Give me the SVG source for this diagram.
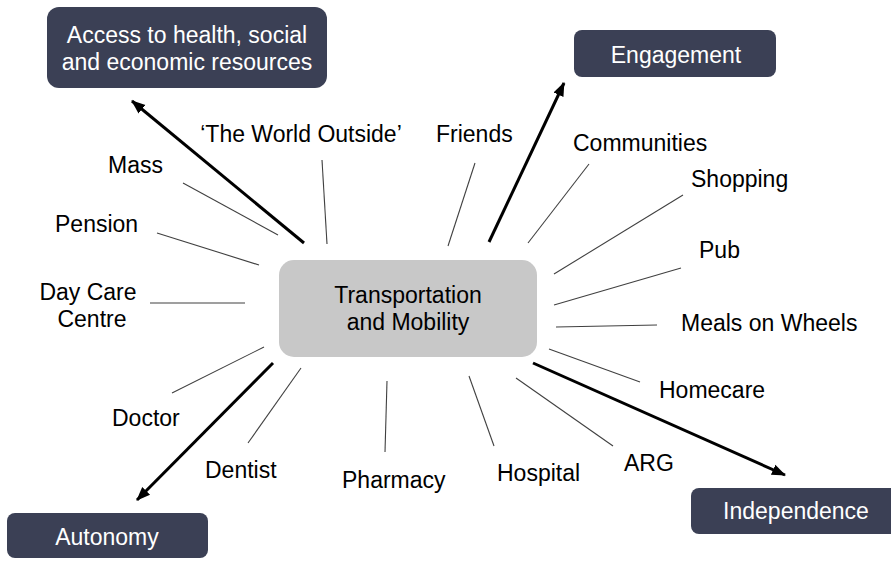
<svg xmlns="http://www.w3.org/2000/svg" width="891" height="561" viewBox="0 0 891 561">
  <style>
    .lbl { font-family: "Liberation Sans", Arial, sans-serif; font-size: 23px; fill: #000000; }
    .out { fill: #3b4055; }
    .outTxt { font-family: "Liberation Sans", Arial, sans-serif; font-size: 23px; fill: #ffffff; text-anchor: middle; }
    .hub { fill: #c8c8c8; }
    .spoke { stroke: #404040; stroke-width: 1.1; fill: none; }
    .arrow { stroke: #000000; stroke-width: 3; fill: none; marker-end: url(#head); }
  </style>
  <defs>
    <marker id="head" markerUnits="userSpaceOnUse" markerWidth="16" markerHeight="14" refX="13" refY="7" orient="auto">
      <path d="M0,1.5 L14,7 L0,12.5 Z" fill="#000000"/>
    </marker>
  </defs>
  <rect width="891" height="561" fill="#ffffff"/>

  <g id="connectors">
    <line class="spoke" x1="475" y1="163" x2="448" y2="246"/>
    <line class="spoke" x1="589" y1="164" x2="528" y2="243"/>
    <line class="spoke" x1="683" y1="195" x2="554" y2="274"/>
    <line class="spoke" x1="681" y1="268" x2="554" y2="305"/>
    <line class="spoke" x1="657" y1="325" x2="556" y2="327"/>
    <line class="spoke" x1="640" y1="382" x2="549" y2="349"/>
    <line class="spoke" x1="613" y1="446" x2="516" y2="378"/>
    <line class="spoke" x1="494" y1="446" x2="469" y2="376"/>
    <line class="spoke" x1="385" y1="452" x2="387" y2="381"/>
    <line class="spoke" x1="248" y1="443" x2="301" y2="368"/>
    <line class="spoke" x1="172" y1="393" x2="264" y2="347"/>
    <line class="spoke" x1="150" y1="303" x2="245" y2="303"/>
    <line class="spoke" x1="157" y1="233" x2="259" y2="265"/>
    <line class="spoke" x1="183" y1="183" x2="278" y2="235"/>
    <line class="spoke" x1="322" y1="160" x2="327" y2="244"/>
    <line class="arrow" x1="304" y1="243" x2="132" y2="101"/>
    <line class="arrow" x1="489" y1="242" x2="564" y2="83"/>
    <line class="arrow" x1="273" y1="363" x2="137" y2="500"/>
    <line class="arrow" x1="533" y1="363" x2="785" y2="475"/>
  </g>

  <g id="hub">
    <rect class="hub" x="279" y="260" width="258" height="97" rx="15"/>
    <text class="lbl" x="408" y="303" text-anchor="middle">Transportation</text>
    <text class="lbl" x="408" y="330" text-anchor="middle">and Mobility</text>
  </g>

  <g id="access">
    <rect class="out" x="47" y="7" width="280" height="81" rx="12"/>
    <text class="outTxt" x="187" y="43">Access to health, social</text>
    <text class="outTxt" x="187" y="70">and economic resources</text>
  </g>
  <g id="engagement">
    <rect class="out" x="574" y="30" width="202" height="47" rx="8"/>
    <text class="outTxt" x="676" y="63">Engagement</text>
  </g>
  <g id="autonomy">
    <rect class="out" x="7" y="513" width="201" height="45" rx="8"/>
    <text class="outTxt" x="107" y="545">Autonomy</text>
  </g>
  <g id="independence">
    <rect class="out" x="691" y="488" width="210" height="46" rx="8"/>
    <text class="outTxt" x="796" y="519">Independence</text>
  </g>

  <g id="world-outside"><text class="lbl" x="301" y="142" text-anchor="middle">‘The World Outside’</text></g>
  <g id="friends"><text class="lbl" x="436" y="142">Friends</text></g>
  <g id="communities"><text class="lbl" x="573" y="151">Communities</text></g>
  <g id="shopping"><text class="lbl" x="691" y="187">Shopping</text></g>
  <g id="pub"><text class="lbl" x="699" y="258">Pub</text></g>
  <g id="meals"><text class="lbl" x="681" y="331">Meals on Wheels</text></g>
  <g id="homecare"><text class="lbl" x="659" y="398">Homecare</text></g>
  <g id="arg"><text class="lbl" x="624" y="471">ARG</text></g>
  <g id="hospital"><text class="lbl" x="497" y="481">Hospital</text></g>
  <g id="pharmacy"><text class="lbl" x="342" y="488">Pharmacy</text></g>
  <g id="dentist"><text class="lbl" x="205" y="478">Dentist</text></g>
  <g id="doctor"><text class="lbl" x="112" y="426">Doctor</text></g>
  <g id="daycare">
    <text class="lbl" x="88" y="300" text-anchor="middle">Day Care</text>
    <text class="lbl" x="92" y="327" text-anchor="middle">Centre</text>
  </g>
  <g id="pension"><text class="lbl" x="55" y="232">Pension</text></g>
  <g id="mass"><text class="lbl" x="108" y="173">Mass</text></g>
</svg>
